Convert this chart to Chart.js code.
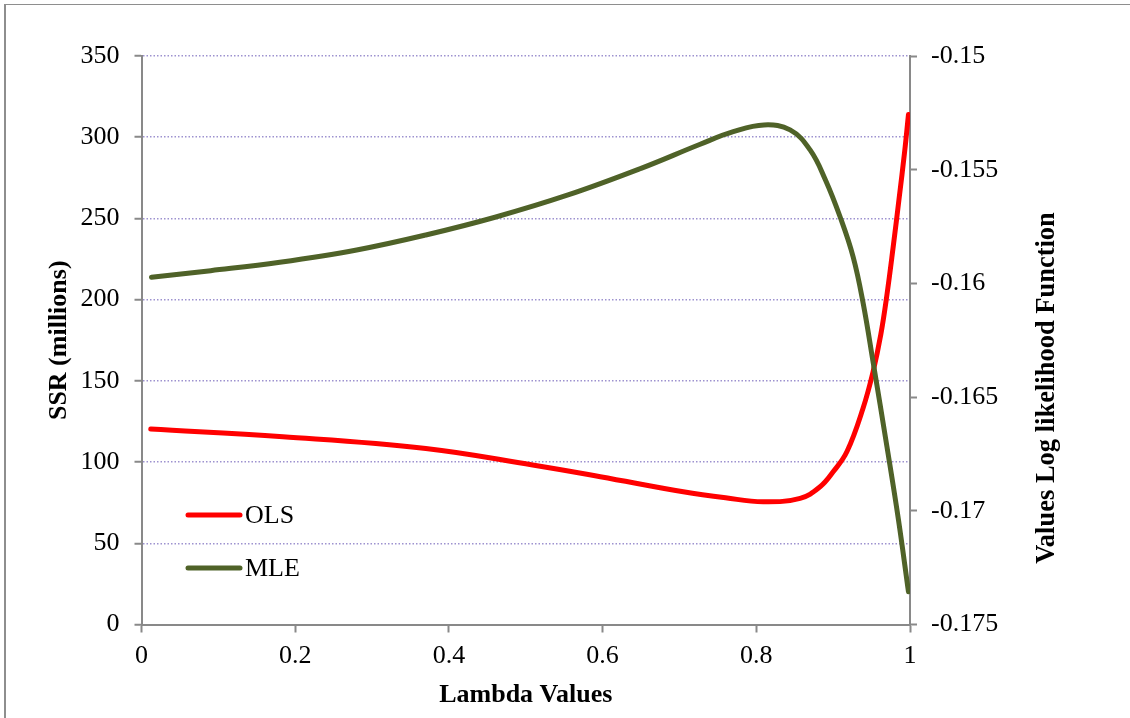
<!DOCTYPE html>
<html lang="en">
<head>
<meta charset="UTF-8">
<title>SSR and Log likelihood vs Lambda</title>
<script src="https://cdn.jsdelivr.net/npm/chart.js"></script>
<style>
    body { margin: 0; background: #fff; }
    .wrap { position: relative; width: 1130px; height: 718px; overflow: hidden; }
    .frame {
        position: absolute; left: 4px; top: 4px; width: 1300px; height: 900px;
        border-left: 2px solid #8e8e8e; border-top: 1px solid #8e8e8e;
    }
    canvas { position: absolute; left: 0; top: 0; }
</style>
</head>
<body>
<div class="wrap">
    <div class="frame"></div>
    <canvas id="lambdaChart" width="1130" height="718"></canvas>
</div>
<script>
    // Values
    const olsLambda = [0.012, 0.184, 0.37, 0.509, 0.597, 0.705, 0.76, 0.809, 0.857, 0.883,
                       0.9, 0.918, 0.939, 0.952, 0.962, 0.970, 0.978, 0.986, 0.993, 0.998];
    const olsSSR = [120.3, 115.6, 108.4, 98.2, 91, 81.7, 78, 75.6, 77.7, 84.8,
                    94, 106.5, 133.3, 155.7, 178.5, 203, 232, 263, 291, 314];

    const mleLambda = [0.013, 0.09, 0.18, 0.28, 0.37, 0.46, 0.555, 0.65, 0.727, 0.77,
                       0.81, 0.844, 0.87, 0.89, 0.909, 0.926, 0.939, 0.952, 0.97, 0.985, 0.998];
    const mleLogLik = [-0.15973, -0.15944, -0.15907, -0.15853, -0.15787, -0.15709, -0.15611, -0.15494, -0.15388, -0.15333,
                       -0.15303, -0.15325, -0.15413, -0.15545, -0.15707, -0.15883, -0.16086, -0.16346, -0.16718, -0.1704, -0.17356];

    const seriesNames = ['OLS', 'MLE'];
    const xAxisTitle = 'Lambda Values';
    const leftAxisTitle = 'SSR (millions)';
    const rightAxisTitle = 'Values Log likelihood Function';

    const FONT = '"Liberation Serif", "Times New Roman", serif';
    const AXIS_GRAY = '#898989';
    Chart.defaults.font.family = FONT;
    Chart.defaults.font.size = 26;
    Chart.defaults.color = '#000';

    const toPoints = (xs, ys) => xs.map((x, i) => ({ x: x, y: ys[i] }));

    // Legend drawn inside the plot, bottom-left
    const innerLegend = {
        id: 'innerLegend',
        afterDraw(chart) {
            const ctx = chart.ctx;
            const rows = [515, 568];
            chart.data.datasets.forEach((ds, i) => {
                const y = rows[i];
                ctx.save();
                ctx.strokeStyle = ds.borderColor;
                ctx.lineWidth = 5;
                ctx.lineCap = 'round';
                ctx.beginPath();
                ctx.moveTo(188, y);
                ctx.lineTo(240, y);
                ctx.stroke();
                ctx.fillStyle = '#000';
                ctx.font = '26px ' + FONT;
                ctx.textBaseline = 'middle';
                ctx.fillText(ds.label, 245, y + 1);
                ctx.restore();
            });
        }
    };

    // Right axis title reads bottom-to-top, like the left one
    const rightTitle = {
        id: 'rightTitle',
        afterDraw(chart) {
            const ctx = chart.ctx;
            ctx.save();
            ctx.translate(1047, 388);
            ctx.rotate(-Math.PI / 2);
            ctx.font = 'bold 26.5px ' + FONT;
            ctx.fillStyle = '#000';
            ctx.textAlign = 'center';
            ctx.textBaseline = 'middle';
            ctx.fillText(rightAxisTitle, 0, 0);
            ctx.restore();
        }
    };

    const ctx = document.getElementById('lambdaChart').getContext('2d');
    const chart = new Chart(ctx, {
        type: 'line',
        data: {
            datasets: [{
                label: seriesNames[0],
                data: toPoints(olsLambda, olsSSR),
                yAxisID: 'y',
                borderColor: '#ff0000',
                borderWidth: 5,
                borderCapStyle: 'round',
                pointRadius: 0,
                tension: 0.4,
                order: 1
            }, {
                label: seriesNames[1],
                data: toPoints(mleLambda, mleLogLik),
                yAxisID: 'y1',
                borderColor: '#4f6228',
                borderWidth: 5,
                borderCapStyle: 'round',
                pointRadius: 0,
                tension: 0.4,
                order: 0
            }]
        },
        options: {
            responsive: false,
            animation: false,
            devicePixelRatio: 1,
            layout: { padding: { top: 56, left: 0, right: 0, bottom: 0 } },
            plugins: {
                legend: { display: false },
                tooltip: { enabled: false }
            },
            scales: {
                x: {
                    type: 'linear',
                    min: 0,
                    max: 1,
                    afterFit: s => { s.height = 93.5; },
                    ticks: {
                        stepSize: 0.2,
                        padding: 8,
                        callback: v => String(+v.toFixed(1))
                    },
                    grid: {
                        drawOnChartArea: false,
                        tickLength: 8,
                        tickColor: AXIS_GRAY,
                        tickWidth: 2
                    },
                    border: { color: AXIS_GRAY, width: 2 },
                    title: {
                        display: true,
                        text: xAxisTitle,
                        font: { weight: 'bold', size: 26 },
                        padding: { top: 0, bottom: 7 }
                    }
                },
                y: {
                    position: 'left',
                    min: 0,
                    max: 350,
                    afterFit: s => { s.width = 141.5; },
                    ticks: { stepSize: 50, padding: 15 },
                    grid: {
                        color: '#9d92cf',
                        lineWidth: 1.5,
                        tickLength: 7,
                        tickColor: AXIS_GRAY,
                        tickWidth: 2
                    },
                    border: { color: AXIS_GRAY, width: 2, dash: [1.5, 2] },
                    title: {
                        display: true,
                        text: leftAxisTitle,
                        font: { weight: 'bold', size: 26 },
                        padding: { top: 44, bottom: 0 }
                    }
                },
                y1: {
                    position: 'right',
                    min: -0.175,
                    max: -0.15,
                    afterFit: s => { s.width = 220; },
                    ticks: {
                        stepSize: 0.005,
                        padding: 14,
                        callback: v => String(+v.toFixed(3))
                    },
                    grid: {
                        drawOnChartArea: false,
                        tickLength: 7,
                        tickColor: AXIS_GRAY,
                        tickWidth: 2
                    },
                    border: { color: AXIS_GRAY, width: 2 }
                }
            }
        },
        plugins: [innerLegend, rightTitle]
    });
</script>
</body>
</html>
